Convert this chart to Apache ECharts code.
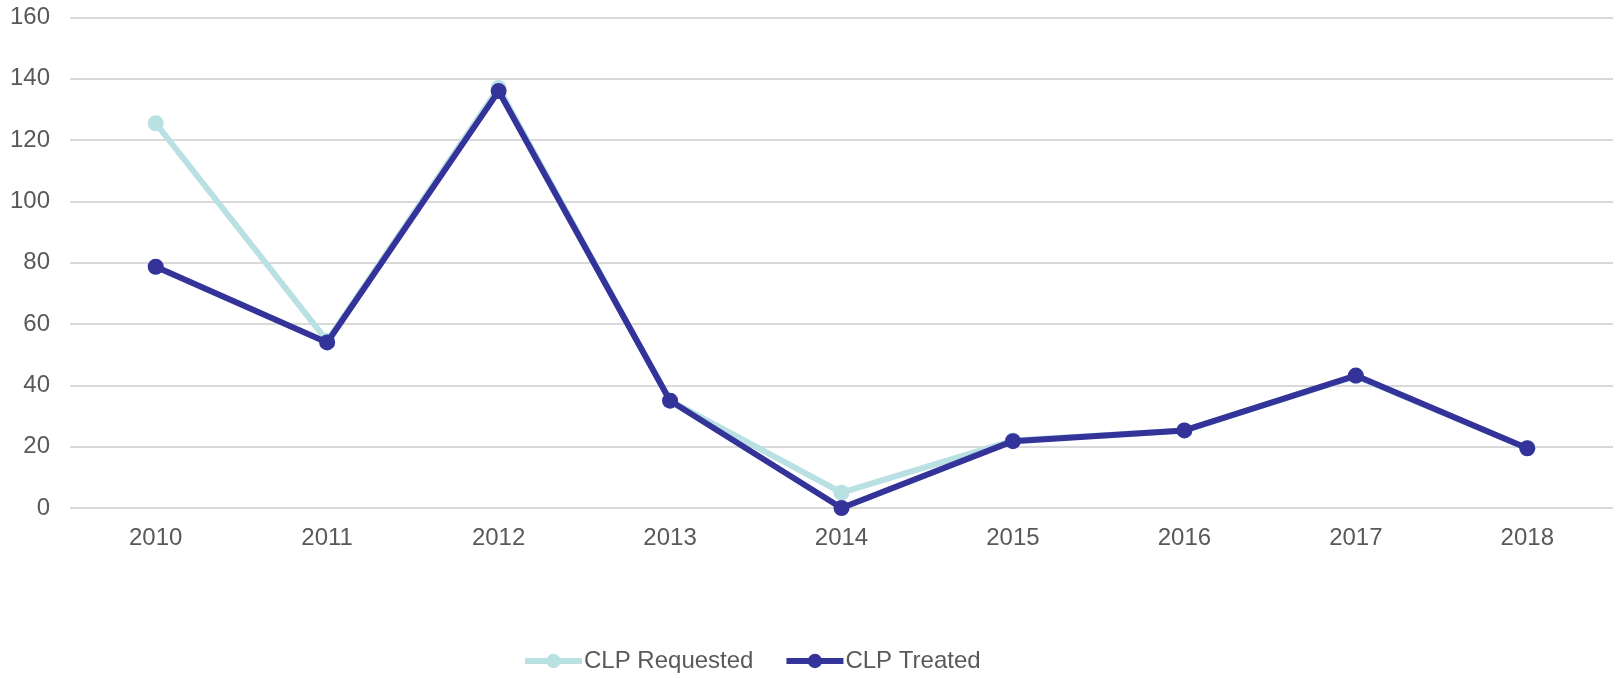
<!DOCTYPE html>
<html>
<head>
<meta charset="utf-8">
<script src="https://cdn.jsdelivr.net/npm/echarts@6/dist/echarts.min.js"></script>
<style>html,body{margin:0;padding:0;background:#fff;}#c{width:1619px;height:678px;}</style>
</head>
<body>
<div id="c"></div>
<script>
const categories = ['2010','2011','2012','2013','2014','2015','2016','2017','2018'];
const requested = [125.5, 54.5, 137, 35, 5, 22, 25.3, 43, 19.5];
const treated = [78.7, 54, 136, 35, 0, 21.8, 25.3, 43.2, 19.5];
const yTicks = {min: 0, max: 160, interval: 20};

const chart = echarts.init(document.getElementById('c'));
chart.setOption({
  animation: false,
  textStyle: {fontFamily: 'Liberation Sans, Arial, sans-serif'},
  grid: {left: 70, right: 6, top: 17.5, bottom: 170, containLabel: false},
  legend: {
    bottom: 0,
    left: 517,
    itemWidth: 57,
    itemHeight: 18,
    itemGap: 30,
    lineStyle: {width: 6},
    textStyle: {color: '#595959', fontSize: 24, padding: [0, 0, 0, -3]},
    data: ['CLP Requested', 'CLP Treated']
  },
  xAxis: {
    type: 'category',
    data: categories,
    boundaryGap: true,
    axisLine: {show: false},
    axisTick: {show: false},
    axisLabel: {color: '#595959', fontSize: 24, margin: 18}
  },
  yAxis: {
    type: 'value',
    min: yTicks.min, max: yTicks.max, interval: yTicks.interval,
    axisLine: {show: false},
    axisTick: {show: false},
    axisLabel: {color: '#595959', fontSize: 24, margin: 20},
    splitLine: {lineStyle: {color: '#d9d9d9', width: 2}}
  },
  series: [
    {
      name: 'CLP Requested',
      type: 'line',
      data: requested,
      symbol: 'circle',
      symbolSize: 16,
      lineStyle: {color: '#b9e0e3', width: 6},
      itemStyle: {color: '#b9e0e3'},
      z: 2
    },
    {
      name: 'CLP Treated',
      type: 'line',
      data: treated,
      symbol: 'circle',
      symbolSize: 16,
      lineStyle: {color: '#333399', width: 6},
      itemStyle: {color: '#333399'},
      z: 3
    }
  ]
});
</script>
</body>
</html>
